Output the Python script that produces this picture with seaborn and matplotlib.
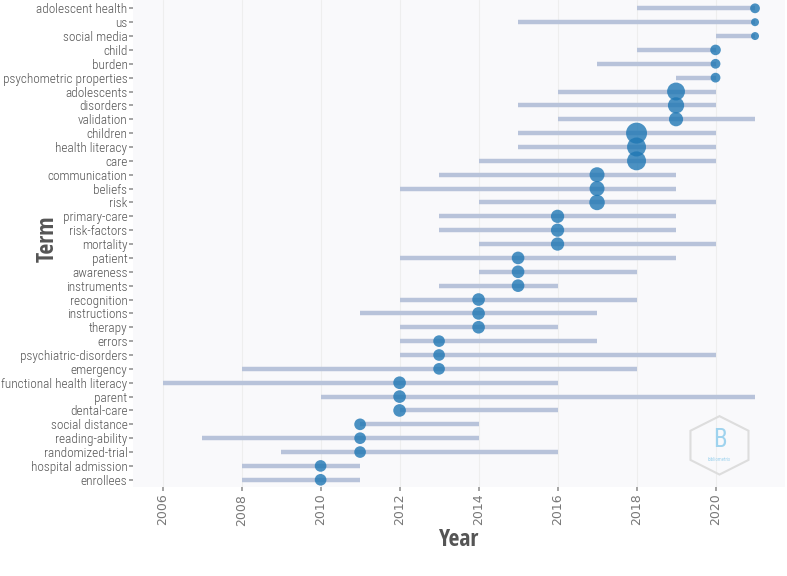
import numpy as np
import pandas as pd
import matplotlib
matplotlib.use("Agg")
import matplotlib.pyplot as plt
from matplotlib.patches import Polygon
import seaborn as sns

# trend topics: term, first quartile year, median year, third quartile year, frequency
terms = ["adolescent health", "us", "social media", "child", "burden",
         "psychometric properties", "adolescents", "disorders", "validation",
         "children", "health literacy", "care", "communication", "beliefs",
         "risk", "primary-care", "risk-factors", "mortality", "patient",
         "awareness", "instruments", "recognition", "instructions", "therapy",
         "errors", "psychiatric-disorders", "emergency",
         "functional health literacy", "parent", "dental-care",
         "social distance", "reading-ability", "randomized-trial",
         "hospital admission", "enrollees"]
year_q1 = [2018, 2015, 2020, 2018, 2017, 2019, 2016, 2015, 2016, 2015, 2015,
           2014, 2013, 2012, 2014, 2013, 2013, 2014, 2012, 2014, 2013, 2012,
           2011, 2012, 2012, 2012, 2008, 2006, 2010, 2012, 2011, 2007, 2009,
           2008, 2008]
year_med = [2021, 2021, 2021, 2020, 2020, 2020, 2019, 2019, 2019, 2018, 2018,
            2018, 2017, 2017, 2017, 2016, 2016, 2016, 2015, 2015, 2015, 2014,
            2014, 2014, 2013, 2013, 2013, 2012, 2012, 2012, 2011, 2011, 2011,
            2010, 2010]
year_q3 = [2021, 2021, 2021, 2020, 2020, 2020, 2020, 2020, 2021, 2020, 2020,
           2020, 2019, 2019, 2020, 2019, 2019, 2020, 2019, 2018, 2016, 2018,
           2017, 2016, 2017, 2020, 2018, 2016, 2021, 2016, 2014, 2014, 2016,
           2011, 2011]
freq = [12, 8, 8, 14, 12, 12, 40, 33, 25, 55, 45, 45, 28, 28, 30, 22, 22, 22,
        20, 20, 20, 20, 20, 20, 17, 17, 17, 20, 20, 20, 17, 17, 17, 17, 17]

df = pd.DataFrame({"term": terms, "q1": year_q1, "median": year_med,
                   "q3": year_q3, "freq": freq})
df["pos"] = np.arange(len(df))[::-1]

sns.set_theme(style="white")
plt.rcParams["font.family"] = ["Roboto Condensed", "DejaVu Sans"]

fig = plt.figure(figsize=(7.87, 5.76), dpi=100)
ax = fig.add_axes([0.169, 0.155, 0.828, 0.845])
ax.set_facecolor("#f9f9fb")

for x in range(2006, 2022, 2):
    ax.axvline(x, color="#eeeeee", lw=0.8, zorder=0)

ax.hlines(df["pos"], df["q1"], df["q3"], color="#b8c3da", lw=3.2, zorder=1)
sns.scatterplot(data=df, x="median", y="pos", size="freq", sizes=(33, 228),
                size_norm=(8, 55), color="#1f77b4", alpha=0.8, edgecolor="none",
                legend=False, ax=ax, zorder=3)

ax.set_xlim(2005.25, 2021.75)
ax.set_ylim(-0.5, len(df) - 0.4)
ax.set_yticks(df["pos"])
ax.set_yticklabels(df["term"], fontweight="light")
ax.set_xticks(range(2006, 2022, 2))
ax.tick_params(axis="y", labelsize=9.5, labelcolor="#555555", length=3,
               color="#999999", left=True, pad=1)
ax.tick_params(axis="x", labelsize=9, labelcolor="#777777", length=3,
               color="#999999", bottom=True, rotation=90, pad=2)
for lab in ax.get_xticklabels():
    lab.set_family(["DejaVu Sans"])
for s in ax.spines.values():
    s.set_visible(False)

ax.set_xlabel("Year", fontsize=17, fontweight="bold", color="#555555",
              family=["Open Sans Condensed", "DejaVu Sans"], labelpad=2)
ax.set_ylabel("Term", fontsize=17, fontweight="bold", color="#555555",
              family=["Open Sans Condensed", "DejaVu Sans"])
ax.yaxis.set_label_coords(-0.112, 0.51)

# logo badge
cx, cy, rx, ry = 0.9, 0.085, 0.0514, 0.06
ang = np.deg2rad(np.arange(90, 450, 60))
hexagon = Polygon(np.column_stack([cx + rx * np.cos(ang), cy + ry * np.sin(ang)]),
                  closed=True, transform=ax.transAxes, facecolor="none",
                  edgecolor="#dddddd", lw=1.5, zorder=2, clip_on=False)
ax.add_patch(hexagon)
ax.text(cx, cy + 0.012, "B", transform=ax.transAxes, ha="center", va="center",
        fontsize=18, color="#9fd3ee", zorder=3)
ax.text(cx, cy - 0.03, "bibliometrix", transform=ax.transAxes, ha="center",
        va="center", fontsize=3.5, color="#9fd3ee", zorder=3)

fig.savefig("out.png", dpi=100)
